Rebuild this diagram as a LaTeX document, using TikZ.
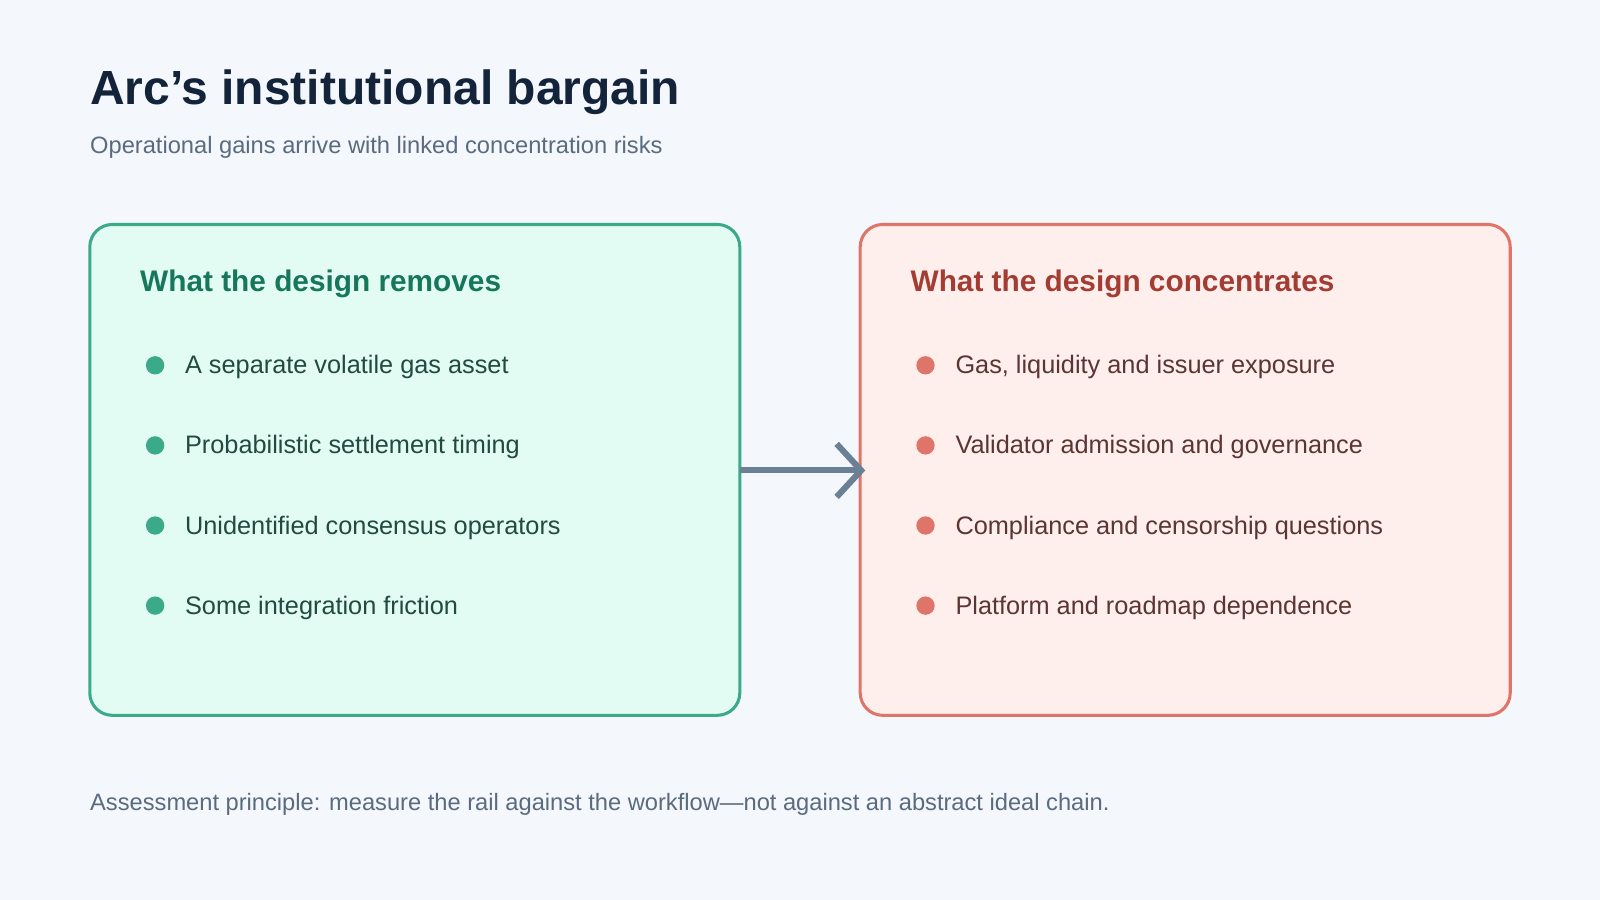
\documentclass[tikz,border=0pt]{standalone}
\usepackage{fontspec}
\setmainfont{Liberation Sans}
\usetikzlibrary{arrows.meta}
\definecolor{bgc}{HTML}{F4F7FB}
\definecolor{ink}{HTML}{13233A}
\definecolor{muted}{HTML}{5A6B80}
\definecolor{gline}{HTML}{3AAA88}
\definecolor{gfill}{HTML}{E3FCF3}
\definecolor{gtext}{HTML}{16775A}
\definecolor{gbody}{HTML}{224A40}
\definecolor{rline}{HTML}{DF7468}
\definecolor{rfill}{HTML}{FFEFEC}
\definecolor{rtext}{HTML}{A33D33}
\definecolor{rbody}{HTML}{5A3533}
\definecolor{arr}{HTML}{6B7F95}
\begin{document}
\begin{tikzpicture}[x=0.5pt, y=-0.5pt, every node/.style={inner sep=0pt},
  panel/.style={rounded corners=11pt, line width=1.5pt},
  head/.style={anchor=west, font=\fontsize{14.6}{17}\selectfont\bfseries},
  item/.style={anchor=west, font=\fontsize{12.4}{15}\selectfont}]

\fill[bgc] (0,0) rectangle (1568,882);
\useasboundingbox (0,0) rectangle (1568,882);

\node[anchor=west, text=ink, font=\fontsize{23.5}{27}\selectfont\bfseries] (title) at (88,90) {Arc’s institutional bargain};
\node[anchor=west, text=muted, font=\fontsize{11.6}{14}\selectfont] (sub) at (88,144) {Operational gains arrive with linked concentration risks};

% left panel
\draw[panel, draw=gline, fill=gfill] (88,220) rectangle (725,701);
\coordinate (lout) at (725,461);
\node[head, text=gtext] (lhead) at (137,278) {What the design removes};
\foreach \t [count=\i] in {A separate volatile gas asset, Probabilistic settlement timing, Unidentified consensus operators, Some integration friction}
{
  \fill[gline] (152,{358+78.5*(\i-1)}) circle (9);
  \node[item, text=gbody] (l\i) at (181,{360+78.5*(\i-1)}) {\t};
}

% right panel
\draw[panel, draw=rline, fill=rfill] (843,220) rectangle (1480,701);
\coordinate (rin) at (848,461);
\node[head, text=rtext] (rhead) at (892,278) {What the design concentrates};
\foreach \t [count=\i] in {{Gas, liquidity and issuer exposure}, Validator admission and governance, Compliance and censorship questions, Platform and roadmap dependence}
{
  \fill[rline] (907,{358+78.5*(\i-1)}) circle (9);
  \node[item, text=rbody] (r\i) at (936,{360+78.5*(\i-1)}) {\t};
}

\draw[arr, line width=3pt, -{Straight Barb[length=12pt, width=26pt, line width=3pt]}] (lout) -- (rin);

\node[anchor=west, text=muted, font=\fontsize{11.6}{14}\selectfont] (foot) at (88,788) {Assessment principle: measure the rail against the workflow—not against an abstract ideal chain.};
\end{tikzpicture}
\end{document}
